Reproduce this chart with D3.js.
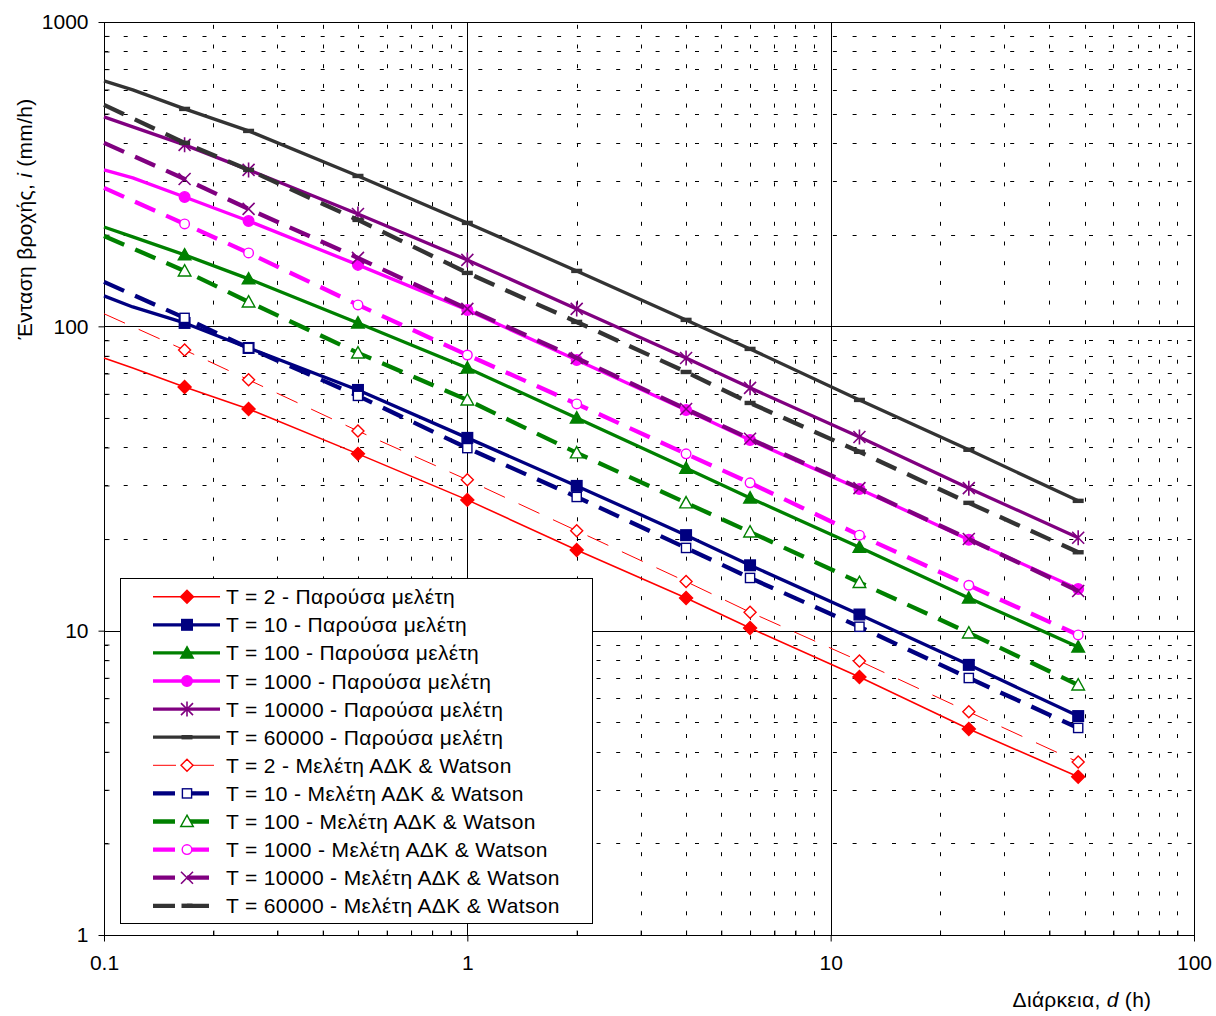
<!DOCTYPE html>
<html><head><meta charset="utf-8">
<script src="https://cdn.jsdelivr.net/npm/d3@7"></script>
<style>
body{margin:0;background:#fff}
svg{display:block}
text{font-family:Arial,"Liberation Sans",sans-serif;fill:#000}
</style>
</head><body>
<svg id="c" width="1216" height="1016"></svg>
<script>
// ---- data ----
const durPresent = [0.1, 0.12, 1/6, 0.25, 0.5, 1, 2, 4, 6, 12, 24, 48];
const durADK = [0.1, 1/6, 0.25, 0.5, 1, 2, 4, 6, 12, 24, 48];
const markerDurations = [1/6, 0.25, 0.5, 1, 2, 4, 6, 12, 24, 48];

const present_T2 = [78.7, 73.0, 63.2, 53.5, 38.1, 26.9, 18.4, 12.8, 10.2, 7.04, 4.75, 3.31];
const present_T10 = [125.9, 115.8, 102.6, 84.9, 61.8, 43.0, 29.9, 20.6, 16.4, 11.3, 7.72, 5.24];
const present_T100 = [212, 196.7, 171.7, 143.2, 102.6, 73.0, 50.0, 34.2, 27.3, 18.8, 12.8, 8.84];
const present_T1000 = [326.6, 307.4, 266.2, 222.0, 159.2, 113.2, 77.5, 53.1, 42.3, 29.2, 19.9, 13.7];
const present_T10000 = [487.6, 452.2, 394.7, 326.6, 234.0, 165.3, 114.1, 78.7, 62.8, 43.3, 29.4, 20.2];
const present_T60000 = [640.4, 598.4, 518.1, 438.6, 312.0, 218.7, 152.1, 105.0, 84.3, 57.3, 39.3, 26.7];

const adk_T2 = [110, 83.6, 66.7, 45.3, 31.3, 21.3, 14.5, 11.5, 7.95, 5.41, 3.70];
const adk_T10 = [140, 106.6, 84.9, 59.1, 39.8, 27.5, 18.7, 14.9, 10.3, 6.99, 4.79];
const adk_T100 = [198.2, 152.1, 120.3, 81.8, 57.3, 38.4, 26.3, 21.1, 14.4, 9.83, 6.63];
const adk_T1000 = [285.0, 217.0, 174.2, 117.6, 80.5, 55.6, 38.1, 30.6, 20.6, 14.1, 9.68];
const adk_T10000 = [400.7, 305.0, 243.1, 167.8, 114.1, 78.7, 53.5, 42.7, 29.4, 20.0, 13.5];
const adk_T60000 = [534.0, 400.7, 326.6, 223.7, 149.8, 103.4, 70.8, 56.0, 38.7, 26.3, 18.1];

const legendLabels = [
  "T = 2 - Παρούσα μελέτη",
  "T = 10 - Παρούσα μελέτη",
  "T = 100 - Παρούσα μελέτη",
  "T = 1000 - Παρούσα μελέτη",
  "T = 10000 - Παρούσα μελέτη",
  "T = 60000 - Παρούσα μελέτη",
  "T = 2 - Μελέτη ΑΔΚ & Watson",
  "T = 10 - Μελέτη ΑΔΚ & Watson",
  "T = 100 - Μελέτη ΑΔΚ & Watson",
  "T = 1000 - Μελέτη ΑΔΚ & Watson",
  "T = 10000 - Μελέτη ΑΔΚ & Watson",
  "T = 60000 - Μελέτη ΑΔΚ & Watson"
];

const xTicks = [0.1, 1, 10, 100];
const xTickLabels = ["0.1", "1", "10", "100"];
const yTicks = [1, 10, 100, 1000];
const yTickLabels = ["1", "10", "100", "1000"];
const xTitle = "Διάρκεια, ";
const yTitle = "Ένταση βροχής, ";

// ---- layout ----
const L = 104, R = 1194, T = 22, B = 935;
const x = d3.scaleLog().domain([0.1, 100]).range([L, R]);
const y = d3.scaleLog().domain([1, 1000]).range([B, T]);
const svg = d3.select("#c");

const minorX = [], minorY = [];
[0.1, 1, 10].forEach(b => { for (let k = 2; k <= 9; k++) minorX.push(b * k); });
[1, 10, 100].forEach(b => { for (let k = 2; k <= 9; k++) minorY.push(b * k); });

const grid = svg.append("g");
grid.selectAll(".mgx").data(minorX).enter().append("line")
  .attr("x1", d => Math.round(x(d)) + 0.5).attr("x2", d => Math.round(x(d)) + 0.5)
  .attr("y1", B).attr("y2", T)
  .attr("stroke", "#000").attr("stroke-width", 1).attr("stroke-dasharray", "4,15.7");
grid.selectAll(".mgy").data(minorY).enter().append("line")
  .attr("y1", d => Math.round(y(d)) + 0.5).attr("y2", d => Math.round(y(d)) + 0.5)
  .attr("x1", L).attr("x2", R)
  .attr("stroke", "#000").attr("stroke-width", 1).attr("stroke-dasharray", "4,15.7");
grid.selectAll(".Mgx").data([1, 10]).enter().append("line")
  .attr("x1", d => Math.round(x(d)) + 0.5).attr("x2", d => Math.round(x(d)) + 0.5)
  .attr("y1", B).attr("y2", T).attr("stroke", "#000").attr("stroke-width", 1);
grid.selectAll(".Mgy").data([10, 100]).enter().append("line")
  .attr("y1", d => Math.round(y(d)) + 0.5).attr("y2", d => Math.round(y(d)) + 0.5)
  .attr("x1", L).attr("x2", R).attr("stroke", "#000").attr("stroke-width", 1);
svg.append("rect").attr("x", L + 0.5).attr("y", T + 0.5).attr("width", R - L).attr("height", B - T)
  .attr("fill", "none").attr("stroke", "#000").attr("stroke-width", 1);

// axes
const yAxis = d3.axisLeft(y).tickValues(yTicks).tickFormat((d, i) => yTickLabels[i]).tickSize(6).tickPadding(10);
const gy = svg.append("g").attr("transform", `translate(${L + 0.5},0)`).call(yAxis);
gy.select(".domain").remove();
gy.selectAll("text").style("font-size", "21px").attr("font-family", "Arial, 'Liberation Sans', sans-serif");
const yMinor = d3.axisRight(y).tickValues(minorY).tickFormat("").tickSize(5);
const gym = svg.append("g").attr("transform", `translate(${L + 0.5},0)`).call(yMinor);
gym.select(".domain").remove();

const xAxis = d3.axisBottom(x).tickValues(xTicks).tickFormat((d, i) => xTickLabels[i]).tickSize(6).tickPadding(14);
const gx = svg.append("g").attr("transform", `translate(0,${B + 0.5})`).call(xAxis);
gx.select(".domain").remove();
gx.selectAll("text").style("font-size", "21px").attr("font-family", "Arial, 'Liberation Sans', sans-serif");
const xMinor = d3.axisTop(x).tickValues(minorX).tickFormat("").tickSize(5);
const gxm = svg.append("g").attr("transform", `translate(0,${B + 0.5})`).call(xMinor);
gxm.select(".domain").remove();

// axis titles
const xt = svg.append("text").attr("x", 1082).attr("y", 1007).attr("text-anchor", "middle")
  .style("font-size", "21px").style("letter-spacing", "0.3px");
xt.append("tspan").text(xTitle);
xt.append("tspan").style("font-style", "italic").text("d");
xt.append("tspan").text(" (h)");
const yt = svg.append("text").attr("transform", "translate(32,219) rotate(-90)").attr("text-anchor", "middle")
  .style("font-size", "21px").style("letter-spacing", "0.3px");
yt.append("tspan").text(yTitle);
yt.append("tspan").style("font-style", "italic").text("i");
yt.append("tspan").text(" (mm/h)");

// ---- series ----
const series = [
  {d: durPresent, v: present_T2, color: "#FF0000", w: 1.6, dash: null, m: "diamond", fill: true},
  {d: durPresent, v: present_T10, color: "#000080", w: 3.3, dash: null, m: "square", fill: true},
  {d: durPresent, v: present_T100, color: "#008000", w: 3.3, dash: null, m: "triangle", fill: true},
  {d: durPresent, v: present_T1000, color: "#FF00FF", w: 3.3, dash: null, m: "circle", fill: true},
  {d: durPresent, v: present_T10000, color: "#800080", w: 3.3, dash: null, m: "star", fill: true},
  {d: durPresent, v: present_T60000, color: "#333333", w: 3.3, dash: null, m: "dash", fill: true},
  {d: durADK, v: adk_T2, color: "#FF0000", w: 1, dash: "23,15", m: "diamond", fill: false},
  {d: durADK, v: adk_T10, color: "#000080", w: 4.3, dash: "22,12", m: "square", fill: false},
  {d: durADK, v: adk_T100, color: "#008000", w: 4.3, dash: "22,12", m: "triangle", fill: false},
  {d: durADK, v: adk_T1000, color: "#FF00FF", w: 4.3, dash: "22,12", m: "circle", fill: false},
  {d: durADK, v: adk_T10000, color: "#800080", w: 4.3, dash: "22,12", m: "x", fill: false},
  {d: durADK, v: adk_T60000, color: "#333333", w: 4.3, dash: "22,12", m: "dash", fill: false}
];

function drawMarker(g, type, cx, cy, color, filled) {
  const fill = filled ? color : "#fff";
  const sw = 1.4;
  if (type === "diamond") {
    const s = filled ? 6.5 : 6;
    g.append("path").attr("d", `M${cx},${cy - s}L${cx + s},${cy}L${cx},${cy + s}L${cx - s},${cy}Z`)
      .attr("fill", fill).attr("stroke", color).attr("stroke-width", sw);
  } else if (type === "square") {
    const s = filled ? 5.3 : 4.6;
    g.append("rect").attr("x", cx - s).attr("y", cy - s).attr("width", 2 * s).attr("height", 2 * s)
      .attr("fill", fill).attr("stroke", color).attr("stroke-width", sw);
  } else if (type === "triangle") {
    const s = 6.3;
    g.append("path").attr("d", `M${cx},${cy - s}L${cx + s},${cy + s * 0.8}L${cx - s},${cy + s * 0.8}Z`)
      .attr("fill", fill).attr("stroke", color).attr("stroke-width", sw);
  } else if (type === "circle") {
    g.append("circle").attr("cx", cx).attr("cy", cy).attr("r", filled ? 5.3 : 4.8)
      .attr("fill", fill).attr("stroke", color).attr("stroke-width", sw);
  } else if (type === "star") {
    const s = 6;
    g.append("path").attr("d", `M${cx - s},${cy - s}L${cx + s},${cy + s}M${cx - s},${cy + s}L${cx + s},${cy - s}M${cx},${cy - s - 1.5}L${cx},${cy + s + 1.5}`)
      .attr("fill", "none").attr("stroke", color).attr("stroke-width", 1.6);
  } else if (type === "x") {
    const s = 6;
    g.append("path").attr("d", `M${cx - s},${cy - s}L${cx + s},${cy + s}M${cx - s},${cy + s}L${cx + s},${cy - s}`)
      .attr("fill", "none").attr("stroke", color).attr("stroke-width", 1.6);
  } else if (type === "dash") {
    g.append("rect").attr("x", cx - 5.5).attr("y", cy - 2.2).attr("width", 11).attr("height", 4.4)
      .attr("fill", color);
  }
}

const line = d3.line().x(p => x(p[0])).y(p => y(p[1]));
const gs = svg.append("g");
series.forEach(s => {
  const pts = s.d.map((d, i) => [d, s.v[i]]);
  const g = gs.append("g");
  g.append("path").attr("d", line(pts)).attr("fill", "none").attr("stroke", s.color)
    .attr("stroke-width", s.w).attr("stroke-linejoin", "round")
    .attr("stroke-dasharray", s.dash);
  pts.forEach(p => {
    if (markerDurations.some(m => Math.abs(m - p[0]) < 1e-9)) drawMarker(g, s.m, x(p[0]), y(p[1]), s.color, s.fill);
  });
});

// ---- legend ----
const lg = svg.append("g");
lg.append("rect").attr("x", 120.5).attr("y", 578.5).attr("width", 472).attr("height", 345)
  .attr("fill", "#fff").attr("stroke", "#000").attr("stroke-width", 1);
series.forEach((s, i) => {
  const cy = 596.7 + i * 28.1;
  const g = lg.append("g");
  g.append("line").attr("x1", 153).attr("x2", 220).attr("y1", cy).attr("y2", cy)
    .attr("stroke", s.color).attr("stroke-width", s.w).attr("stroke-dasharray", s.dash);
  drawMarker(g, s.m, 187, cy, s.color, s.fill);
  g.append("text").attr("x", 226).attr("y", cy).attr("dy", "0.36em")
    .style("font-size", "21px").style("letter-spacing", "0.35px").text(legendLabels[i]);
});
</script>
</body></html>
